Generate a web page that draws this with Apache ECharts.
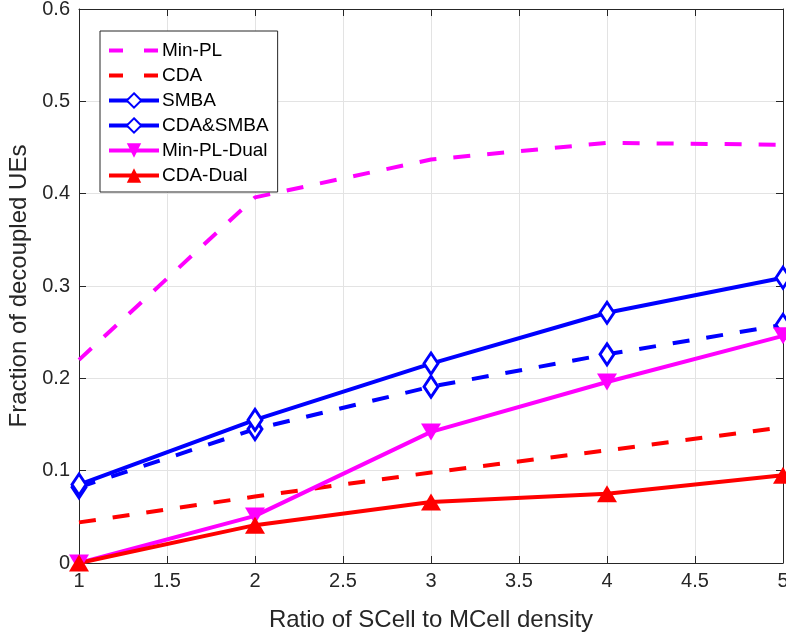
<!DOCTYPE html>
<html lang="en">
<head>
    <meta charset="UTF-8">
    <title>Decoupled UEs</title>
    <script src="https://cdn.jsdelivr.net/npm/echarts@6/dist/echarts.min.js"></script>
    <style>
        * { margin: 0; padding: 0; }
        #main { width: 786px; height: 637px; background: #fff; }
    </style>
</head>
<body>
<div id="main"></div>
<script>
    // data
    var ratio = [1, 2, 3, 4, 5];
    var minPL      = [0.220, 0.396, 0.437, 0.455, 0.453];
    var cda        = [0.044, 0.072, 0.098, 0.122, 0.147];
    var smba       = [0.082, 0.145, 0.191, 0.226, 0.258];
    var cdaSmba    = [0.085, 0.155, 0.216, 0.271, 0.309];
    var minPLDual  = [0.000, 0.051, 0.142, 0.196, 0.246];
    var cdaDual    = [0.000, 0.041, 0.066, 0.075, 0.095];
    var xTicks = [1, 1.5, 2, 2.5, 3, 3.5, 4, 4.5, 5];
    var yTicks = [0, 0.1, 0.2, 0.3, 0.4, 0.5, 0.6];

    var ink = '#262626';
    var font = '"Liberation Sans", Arial, Helvetica, sans-serif';

    function pairs(ys) {
        return ratio.map(function (x, i) { return [x, ys[i]]; });
    }

    function line(name, ys, color, dashed, symbol, extra) {
        var s = {
            name: name,
            type: 'line',
            data: pairs(ys),
            symbol: symbol || 'none',
            showSymbol: !!symbol,
            lineStyle: { color: color, width: 4, type: dashed ? [17, 17] : 'solid' },
            itemStyle: { color: color },
            z: 3
        };
        for (var k in extra) s[k] = extra[k];
        return s;
    }

    var diamond = {
        symbolSize: [14, 21],
        itemStyle: { color: '#fff', borderColor: '#0000ff', borderWidth: 3 }
    };

    // no marker in the legend for plain dashed lines
    var hidden = { opacity: 0, color: 'transparent', borderColor: 'transparent' };

    var dom = document.getElementById('main');
    var chart = echarts.init(dom);

    var option = {
        animation: false,
        textStyle: { fontFamily: font },
        grid: { left: 79, right: 3, top: 9, bottom: 74, containLabel: false, outerBoundsMode: 'none' },
        legend: {
            left: 100,
            top: 31,
            orient: 'vertical',
            backgroundColor: '#fff',
            borderColor: ink,
            borderWidth: 1,
            borderRadius: 0,
            padding: [10, 9, 7, 7],
            itemWidth: 50,
            itemHeight: 18,
            itemGap: 6,
            textStyle: { fontSize: 19, color: '#000', fontFamily: font, padding: [0, 0, 0, -2] },
            data: [
                { name: 'Min-PL', itemStyle: hidden, lineStyle: { type: [14, 21], width: 4 } },
                { name: 'CDA', itemStyle: hidden, lineStyle: { type: [14, 21], width: 4 } },
                { name: 'SMBA', lineStyle: { type: 'solid', width: 4 } },
                { name: 'CDA&SMBA', lineStyle: { width: 4 } },
                { name: 'Min-PL-Dual', lineStyle: { width: 4 } },
                { name: 'CDA-Dual', lineStyle: { width: 4 } }
            ]
        },
        xAxis: [{
            type: 'value',
            min: 1, max: 5, interval: 0.5,
            name: 'Ratio of SCell to MCell density',
            nameLocation: 'middle',
            nameGap: 45,
            nameTextStyle: { fontSize: 24, color: ink, fontFamily: font },
            axisLine: { show: true, lineStyle: { color: ink, width: 1 } },
            axisTick: { show: true, inside: true, length: 7, lineStyle: { color: ink } },
            axisLabel: { fontSize: 20, color: ink, margin: 8, fontFamily: font,
                formatter: function (v) { return xTicks.indexOf(v) >= 0 ? String(v) : ''; } },
            splitLine: { show: true, lineStyle: { color: '#e3e3e3', width: 1 } }
        }, {
            type: 'value', position: 'top',
            min: 1, max: 5, interval: 0.5,
            axisLine: { show: true, onZero: false, lineStyle: { color: ink, width: 1 } },
            axisTick: { show: true, inside: true, length: 7, lineStyle: { color: ink } },
            axisLabel: { show: false },
            splitLine: { show: false }
        }],
        yAxis: [{
            type: 'value',
            min: 0, max: 0.6, interval: 0.1,
            name: 'Fraction of decoupled UEs',
            nameLocation: 'middle',
            nameGap: 42,
            nameTextStyle: { fontSize: 24, color: ink, fontFamily: font },
            axisLine: { show: true, lineStyle: { color: ink, width: 1 } },
            axisTick: { show: true, inside: true, length: 7, lineStyle: { color: ink } },
            axisLabel: { fontSize: 20, color: ink, margin: 9, fontFamily: font,
                formatter: function (v) {
                    var r = Math.round(v * 10) / 10;
                    return yTicks.indexOf(r) >= 0 ? String(r) : '';
                } },
            splitLine: { show: true, lineStyle: { color: '#e3e3e3', width: 1 } }
        }, {
            type: 'value', position: 'right',
            min: 0, max: 0.6, interval: 0.1,
            axisLine: { show: true, onZero: false, lineStyle: { color: ink, width: 1 } },
            axisTick: { show: true, inside: true, length: 7, lineStyle: { color: ink } },
            axisLabel: { show: false },
            splitLine: { show: false }
        }],
        series: [
            line('Min-PL', minPL, '#ff00ff', true),
            line('CDA', cda, '#ff0000', true),
            line('SMBA', smba, '#0000ff', true, 'diamond', diamond),
            line('CDA&SMBA', cdaSmba, '#0000ff', false, 'diamond', diamond),
            line('Min-PL-Dual', minPLDual, '#ff00ff', false, 'triangle', { symbolSize: [20, 17], symbolRotate: 180 }),
            line('CDA-Dual', cdaDual, '#ff0000', false, 'triangle', { symbolSize: [20, 17] })
        ]
    };

    chart.setOption(option);
</script>
</body>
</html>
